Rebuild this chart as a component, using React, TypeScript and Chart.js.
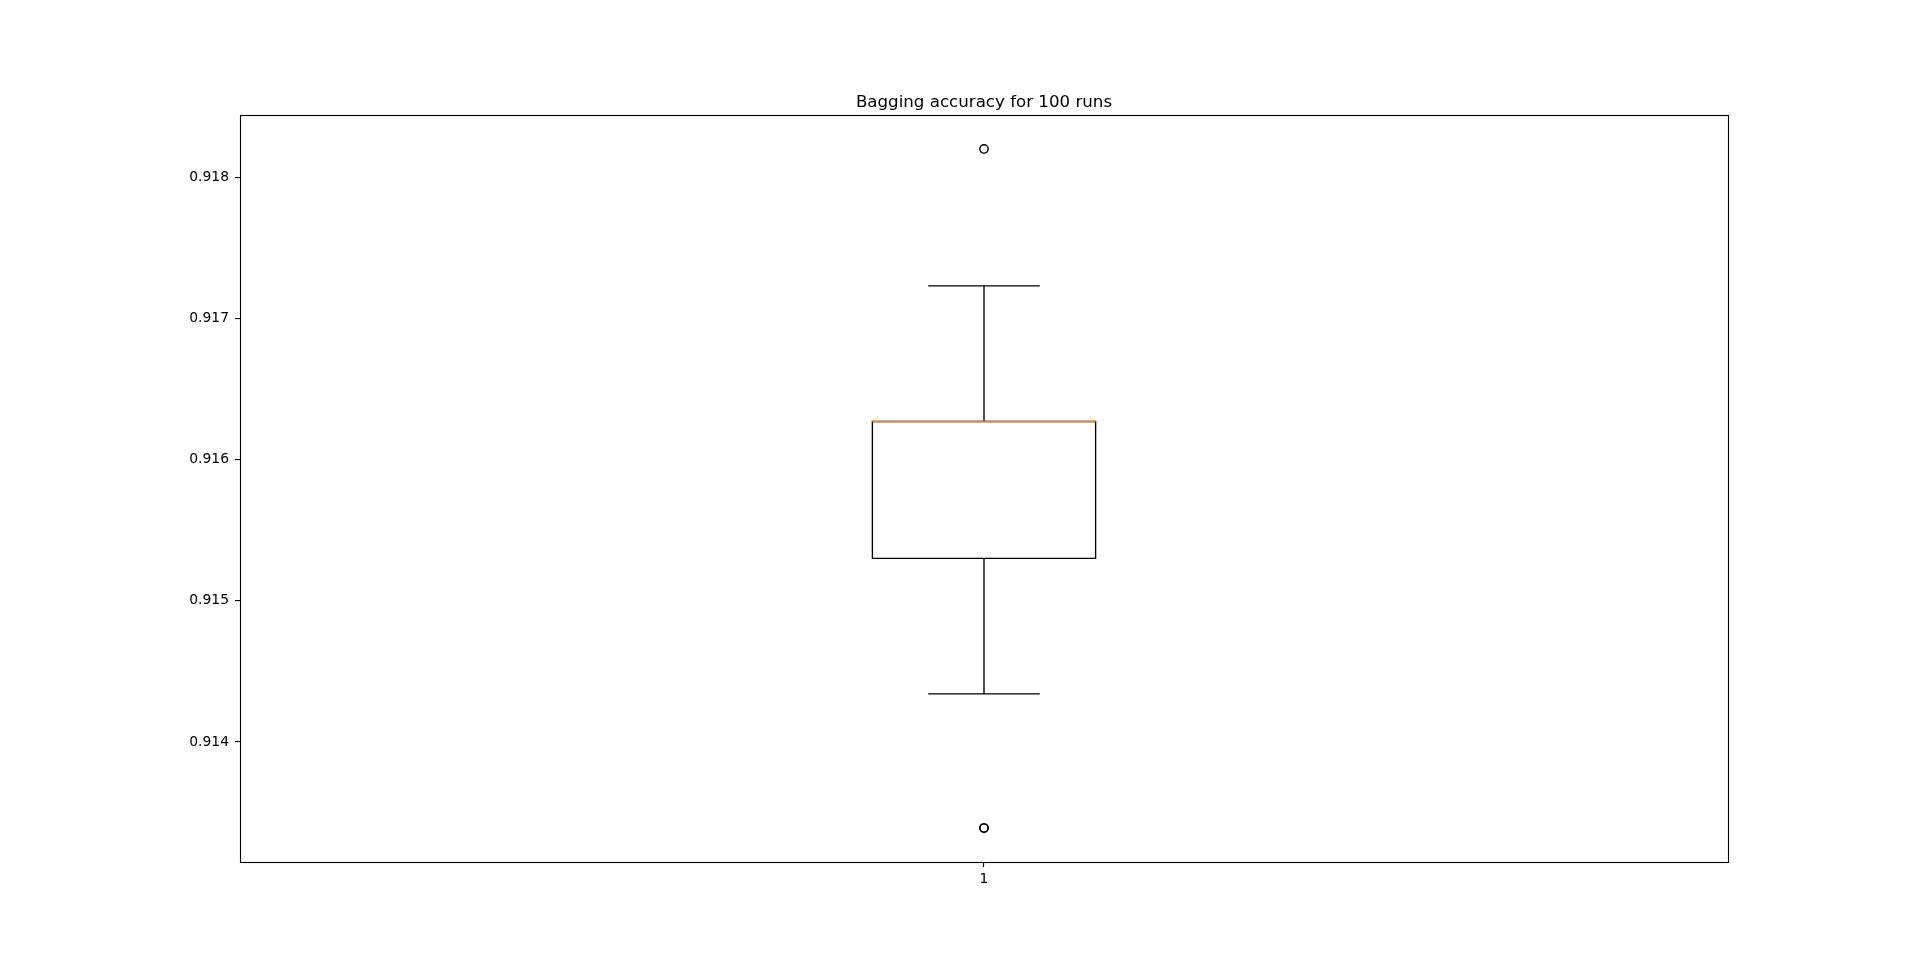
import React, { useEffect, useRef } from 'react';
import { Chart, registerables } from 'chart.js';

Chart.register(...registerables);

// ---- data ----
const categories = ['1'];
const lowerWhiskers = [0.91434];
const firstQuartiles = [0.9153];
const medians = [0.91627];
const thirdQuartiles = [0.91627];
const upperWhiskers = [0.91723];
const outlierValues = [[0.91339, 0.91339, 0.9182]];
const yTickValues = [0.914, 0.915, 0.916, 0.917, 0.918];
const titleText = 'Bagging accuracy for 100 runs';

const BOX_HALF = 0.075; // matplotlib default box width 0.15 (data units)
const CAP_HALF = 0.0375;
const FONT = '"DejaVu Sans", sans-serif';
const LW = 1.39;

export default function App() {
  const ref = useRef<HTMLCanvasElement | null>(null);

  useEffect(() => {
    document.body.style.margin = '0';
    const canvas = ref.current;
    if (!canvas) return;

    const allVals = [
      ...lowerWhiskers, ...firstQuartiles, ...medians, ...thirdQuartiles, ...upperWhiskers,
      ...outlierValues.flat(),
    ];
    const lo = Math.min(...allVals);
    const hi = Math.max(...allVals);
    const margin = (hi - lo) * 0.05;

    const datasets: any[] = [];
    categories.forEach((_, i) => {
      const x = i + 1;
      datasets.push({
        type: 'line', label: 'median',
        data: [{ x: x - BOX_HALF, y: medians[i] }, { x: x + BOX_HALF, y: medians[i] }],
        borderColor: '#ff7f0e', borderWidth: LW, pointRadius: 0,
      });
      datasets.push({
        type: 'scatter', label: 'outliers',
        data: outlierValues[i].map((v) => ({ x, y: v })),
        borderColor: '#000', backgroundColor: 'rgba(0,0,0,0)', borderWidth: LW,
        pointRadius: 4.17, pointStyle: 'circle', showLine: false,
      });
      datasets.push({
        type: 'line', label: 'box',
        data: [
          { x: x - BOX_HALF, y: firstQuartiles[i] },
          { x: x + BOX_HALF, y: firstQuartiles[i] },
          { x: x + BOX_HALF, y: thirdQuartiles[i] },
          { x: x - BOX_HALF, y: thirdQuartiles[i] },
          { x: x - BOX_HALF, y: firstQuartiles[i] },
        ],
        borderColor: '#000', borderWidth: LW, pointRadius: 0, tension: 0,
      });
      datasets.push({
        type: 'line', label: 'lower whisker',
        data: [{ x, y: firstQuartiles[i] }, { x, y: lowerWhiskers[i] }],
        borderColor: '#000', borderWidth: LW, pointRadius: 0,
      });
      datasets.push({
        type: 'line', label: 'upper whisker',
        data: [{ x, y: thirdQuartiles[i] }, { x, y: upperWhiskers[i] }],
        borderColor: '#000', borderWidth: LW, pointRadius: 0,
      });
      datasets.push({
        type: 'line', label: 'lower cap',
        data: [{ x: x - CAP_HALF, y: lowerWhiskers[i] }, { x: x + CAP_HALF, y: lowerWhiskers[i] }],
        borderColor: '#000', borderWidth: LW, pointRadius: 0,
      });
      datasets.push({
        type: 'line', label: 'upper cap',
        data: [{ x: x - CAP_HALF, y: upperWhiskers[i] }, { x: x + CAP_HALF, y: upperWhiskers[i] }],
        borderColor: '#000', borderWidth: LW, pointRadius: 0,
      });
    });

    const framePlugin = {
      id: 'frameAndTitle',
      afterDraw(chart: any) {
        const { ctx, chartArea } = chart;
        const { left, top, right, bottom } = chartArea;
        ctx.save();
        ctx.strokeStyle = '#000';
        ctx.lineWidth = 1.11;
        ctx.strokeRect(Math.round(left) + 0.5, Math.round(top) + 0.5,
          Math.round(right) - Math.round(left), Math.round(bottom) - Math.round(top));
        ctx.fillStyle = '#000';
        ctx.font = `16.67px ${FONT}`;
        ctx.textAlign = 'center';
        ctx.textBaseline = 'alphabetic';
        ctx.fillText(titleText, (left + right) / 2, top - 8.33);
        ctx.restore();
      },
    };

    const chart = new Chart(canvas, {
      type: 'scatter',
      data: { datasets },
      plugins: [framePlugin],
      options: {
        animation: false,
        responsive: false,
        devicePixelRatio: 1,
        layout: { padding: { top: 115, right: 192, left: 0, bottom: 0 } },
        plugins: { legend: { display: false }, title: { display: false }, tooltip: { enabled: false } },
        scales: {
          x: {
            type: 'linear',
            min: 0.5,
            max: categories.length + 0.5,
            afterBuildTicks: (scale: any) => {
              scale.ticks = categories.map((_, i) => ({ value: i + 1 }));
            },
            afterFit: (scale: any) => { scale.height = 107; },
            ticks: {
              callback: (v: any) => categories[Number(v) - 1] ?? '',
              color: '#000',
              font: { family: FONT, size: 13.89 },
              padding: 4,
              maxRotation: 0,
            },
            grid: { drawOnChartArea: false, drawTicks: true, tickLength: 5, color: '#000', lineWidth: 1.11 },
            border: { display: false },
          },
          y: {
            type: 'linear',
            min: lo - margin,
            max: hi + margin,
            afterBuildTicks: (scale: any) => {
              scale.ticks = yTickValues.map((v) => ({ value: v }));
            },
            afterFit: (scale: any) => { scale.width = 240; },
            ticks: {
              callback: (v: any) => Number(v).toFixed(3),
              color: '#000',
              font: { family: FONT, size: 13.89 },
              padding: 6,
            },
            grid: { drawOnChartArea: false, drawTicks: true, tickLength: 5, color: '#000', lineWidth: 1.11 },
            border: { display: false },
          },
        },
      } as any,
    });

    return () => chart.destroy();
  }, []);

  return <canvas ref={ref} width={1920} height={969} style={{ display: 'block', width: 1920, height: 969 }} />;
}
